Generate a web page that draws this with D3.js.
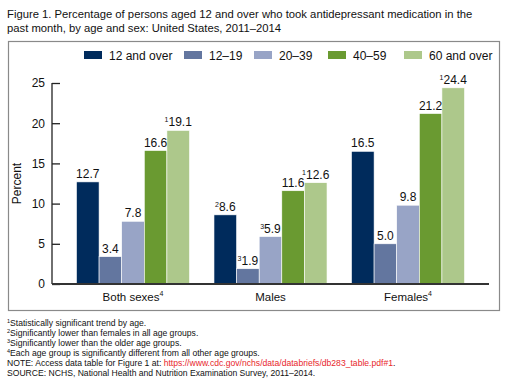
<!DOCTYPE html>
<html>
<head>
<meta charset="utf-8">
<script src="https://cdn.jsdelivr.net/npm/d3@7"></script>
<style>
  body { margin: 0; background: #fff; }
  svg { font-family: Arial, "Liberation Sans", sans-serif; }
</style>
</head>
<body>
<div id="chart"></div>
<script>
// chart data
const groups = ['Both sexes', 'Males', 'Females'];
const groupSup = ['4', '', '4'];
const series = ['12 and over', '12\u201319', '20\u201339', '40\u201359', '60 and over'];
const colors = ['#002b5c', '#63769f', '#98a4c6', '#6a9a31', '#adc88b'];
const bothSexes = [12.7, 3.4, 7.8, 16.6, 19.1];
const males = [8.6, 1.9, 5.9, 11.6, 12.6];
const females = [16.5, 5.0, 9.8, 21.2, 24.4];
const bothSup = ['', '', '', '', '1'];
const malesSup = ['2', '3', '3', '', '1'];
const femalesSup = ['', '', '', '', '1'];
const yTicks = [0, 5, 10, 15, 20, 25];
const titleLines = [
    'Figure 1. Percentage of persons aged 12 and over who took antidepressant medication in the',
    'past month, by age and sex: United States, 2011\u20132014'
];
const footnotes = [
    {sup: '1', text: 'Statistically significant trend by age.'},
    {sup: '2', text: 'Significantly lower than females in all age groups.'},
    {sup: '3', text: 'Significantly lower than the older age groups.'},
    {sup: '4', text: 'Each age group is significantly different from all other age groups.'}
];

const values = [bothSexes, males, females];
const sups = [bothSup, malesSup, femalesSup];

const width = 508, height = 386;
const svg = d3.select('#chart').append('svg')
    .attr('width', width)
    .attr('height', height);

// title, sized so the first line spans like the reference
const title = svg.selectAll('text.title')
    .data(titleLines)
    .enter().append('text')
    .attr('class', 'title')
    .attr('x', 7)
    .attr('y', (d, i) => 18 + i * 14)
    .style('font-size', '12px')
    .style('fill', '#111')
    .text(d => d);
const firstW = title.node().getComputedTextLength();
title.style('font-size', (12 * 466 / firstW).toFixed(2) + 'px');

// outer frame
svg.append('rect')
    .attr('x', 8.5).attr('y', 41.5)
    .attr('width', 491).attr('height', 269)
    .style('fill', 'none')
    .style('stroke', '#8a8a8a')
    .style('stroke-width', 1.2);

// scales
const plot = {left: 52, right: 489, top: 83, bottom: 284};
const x0 = d3.scaleBand().domain(groups).range([plot.left, plot.right]).padding(0.178);
const x1 = d3.scaleBand().domain(series).range([0, x0.bandwidth()]);
const y = d3.scaleLinear().domain([0, 25]).range([plot.bottom, plot.top]);

// y axis (ticks pointing inward)
const yAxis = svg.append('g')
    .attr('transform', `translate(${plot.left},0)`)
    .call(d3.axisRight(y).tickValues(yTicks).tickSize(8).tickFormat(d3.format('d')));
yAxis.select('.domain').attr('d', `M0,${plot.top}V${plot.bottom}`).style('stroke', '#222').style('stroke-width', 1.3);
yAxis.selectAll('.tick line').style('stroke', '#222').style('stroke-width', 1.3);
yAxis.selectAll('.tick text')
    .attr('x', -7)
    .style('text-anchor', 'end')
    .style('font-size', '12px')
    .style('font-family', 'Arial, "Liberation Sans", sans-serif')
    .style('fill', '#111');

// y axis title
svg.append('text')
    .attr('transform', `translate(21,${(plot.top + plot.bottom) / 2}) rotate(-90)`)
    .style('text-anchor', 'middle')
    .style('font-size', '12px')
    .style('fill', '#111')
    .text('Percent');

// bars
const gGroups = svg.selectAll('g.group')
    .data(groups)
    .enter().append('g')
    .attr('class', 'group')
    .attr('transform', d => `translate(${x0(d)},0)`);

gGroups.each(function (g, gi) {
    const sel = d3.select(this);
    const rows = series.map((s, si) => ({s: s, v: values[gi][si], sup: sups[gi][si], c: colors[si]}));
    sel.selectAll('rect')
        .data(rows)
        .enter().append('rect')
        .attr('x', d => x1(d.s))
        .attr('y', d => y(d.v))
        .attr('width', x1.bandwidth())
        .attr('height', d => y(0) - y(d.v))
        .style('fill', d => d.c)
        .style('stroke', '#fff')
        .style('stroke-width', 0.6);

    const labels = sel.selectAll('text.val')
        .data(rows)
        .enter().append('text')
        .attr('class', 'val')
        .attr('x', d => x1(d.s) + x1.bandwidth() / 2)
        .attr('y', d => y(d.v) - 4)
        .style('text-anchor', 'middle')
        .style('font-size', '12px')
        .style('fill', '#111');
    labels.append('tspan')
        .attr('dy', -4)
        .style('font-size', '7px')
        .text(d => d.sup);
    labels.append('tspan')
        .attr('dy', d => d.sup ? 4 : 0)
        .text(d => d.v.toFixed(1));
});

// baseline
svg.append('line')
    .attr('x1', plot.left).attr('x2', plot.right)
    .attr('y1', y(0)).attr('y2', y(0))
    .style('stroke', '#333')
    .style('stroke-width', 2);

// category labels
const cat = svg.selectAll('text.cat')
    .data(groups)
    .enter().append('text')
    .attr('class', 'cat')
    .attr('x', d => x0(d) + x0.bandwidth() / 2)
    .attr('y', 301)
    .style('text-anchor', 'middle')
    .style('font-size', '11.5px')
    .style('fill', '#111');
cat.append('tspan').text(d => d);
cat.append('tspan')
    .attr('dy', -5)
    .style('font-size', '7px')
    .text((d, i) => groupSup[i]);

// legend
const legendX = [84, 184, 254, 328, 404];
const legend = svg.selectAll('g.legend')
    .data(series)
    .enter().append('g')
    .attr('class', 'legend')
    .attr('transform', (d, i) => `translate(${legendX[i]},51)`);
legend.append('rect')
    .attr('width', 18).attr('height', 8)
    .style('fill', (d, i) => colors[i]);
legend.append('text')
    .attr('x', 25).attr('y', 8.5)
    .style('font-size', '12px')
    .style('fill', '#111')
    .text(d => d);

// footnotes
const noteSize = '8.6px';
const notes = svg.selectAll('text.note')
    .data(footnotes)
    .enter().append('text')
    .attr('class', 'note')
    .attr('x', 7)
    .attr('y', (d, i) => 326 + i * 10)
    .style('font-size', noteSize)
    .style('fill', '#111');
notes.append('tspan')
    .attr('dy', -3)
    .style('font-size', '5.5px')
    .text(d => d.sup);
notes.append('tspan')
    .attr('dy', 3)
    .text(d => d.text);

const noteLine = svg.append('text')
    .attr('x', 7).attr('y', 366)
    .style('font-size', noteSize)
    .style('fill', '#111');
noteLine.append('tspan').text('NOTE: Access data table for Figure 1 at: ');
noteLine.append('tspan').style('fill', '#e8262b').text('https://www.cdc.gov/nchs/data/databriefs/db283_table.pdf#1');
noteLine.append('tspan').text('.');

svg.append('text')
    .attr('x', 7).attr('y', 376)
    .style('font-size', noteSize)
    .style('fill', '#111')
    .text('SOURCE: NCHS, National Health and Nutrition Examination Survey, 2011\u20132014.');
</script>
</body>
</html>
